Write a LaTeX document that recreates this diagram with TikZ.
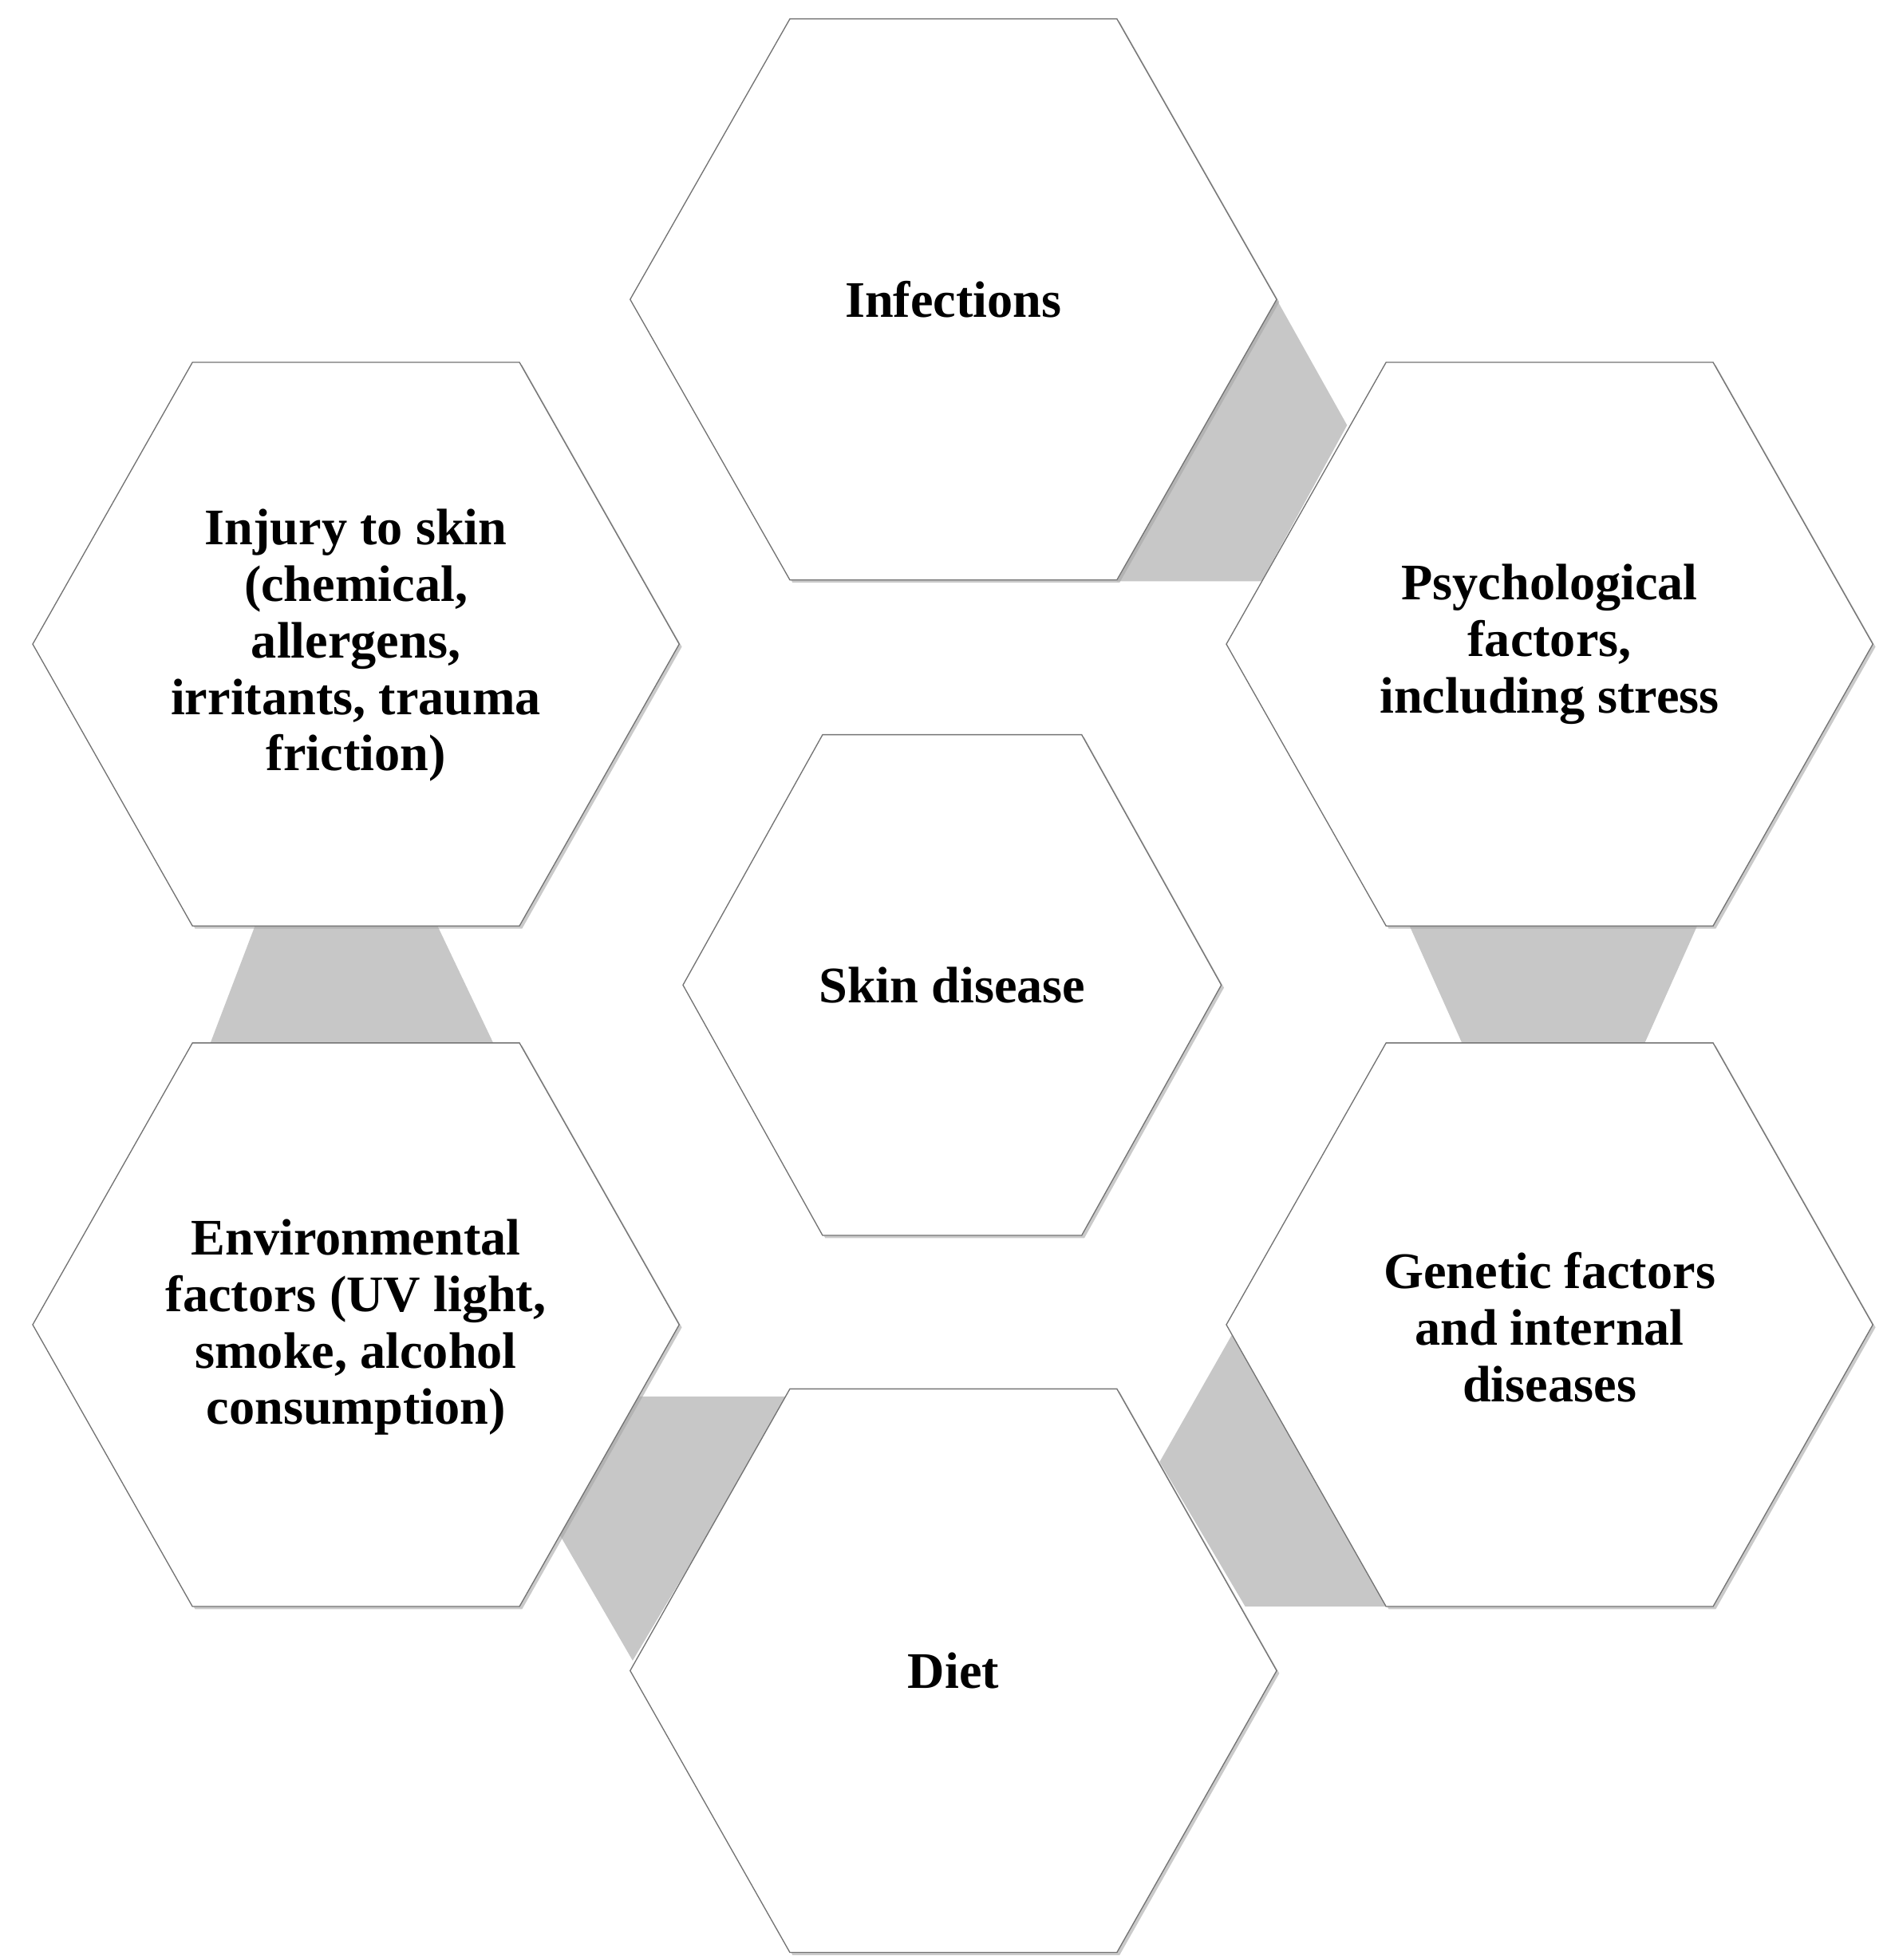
\documentclass[tikz,border=0pt]{standalone}
\usepackage{fontspec}
\setmainfont{Liberation Serif}
\usetikzlibrary{shadows}
\begin{document}
\begin{tikzpicture}[x=0.05cm,y=-0.05cm,
  hexa/.style={draw=black!55,line width=1.2pt,fill=white,drop shadow={shadow xshift=3pt,shadow yshift=-3pt,fill=black!35,opacity=0.6}},
  link/.style={fill=black!22},
  lbl/.style={font=\fontsize{58}{64}\selectfont\bfseries,align=center}]
\useasboundingbox (0,0) rectangle (1500,1558);
\newcommand{\hexagon}[5]{%
 \draw[hexa] (#1-#3,#2) -- (#1-#5,#2-#4) -- (#1+#5,#2-#4) -- (#1+#3,#2) -- (#1+#5,#2+#4) -- (#1-#5,#2+#4) -- cycle;}
% gray links
\fill[link] (1015,238) -- (1071,338) -- (1003,462) -- (888,462) -- cycle;
\fill[link] (205,730) -- (345,730) -- (395,835) -- (165,835) -- cycle;
\fill[link] (1118,730) -- (1352,730) -- (1305,835) -- (1165,835) -- cycle;
\fill[link] (980,1060) -- (922,1162) -- (990,1277) -- (1103,1277) -- cycle;
\fill[link] (507,1110) -- (628,1110) -- (503,1320) -- (445,1220) -- cycle;
% hexagons
\hexagon{758}{238}{257}{223}{130}
\hexagon{283}{512}{257}{224}{130}
\hexagon{1232}{512}{257}{224}{130}
\hexagon{283}{1053}{257}{224}{130}
\hexagon{1232}{1053}{257}{224}{130}
\hexagon{758}{1328}{257}{224}{130}
\hexagon{757}{783}{214}{199}{103}
% labels
\node[lbl] (inf) at (758,238) {Infections};
\node[lbl] (inj) at (283,513) {Injury to skin\\(chemical,\\allergens,\\irritants, trauma\\friction)};
\node[lbl] (psy) at (1232,512) {Psychological\\factors,\\including stress};
\node[lbl] (env) at (283,1055) {Environmental\\factors (UV light,\\smoke, alcohol\\consumption)};
\node[lbl] (gen) at (1232,1055) {Genetic factors\\and internal\\diseases};
\node[lbl] (diet) at (758,1328) {Diet};
\node[lbl] (skin) at (757,783) {Skin disease};
\end{tikzpicture}
\end{document}
